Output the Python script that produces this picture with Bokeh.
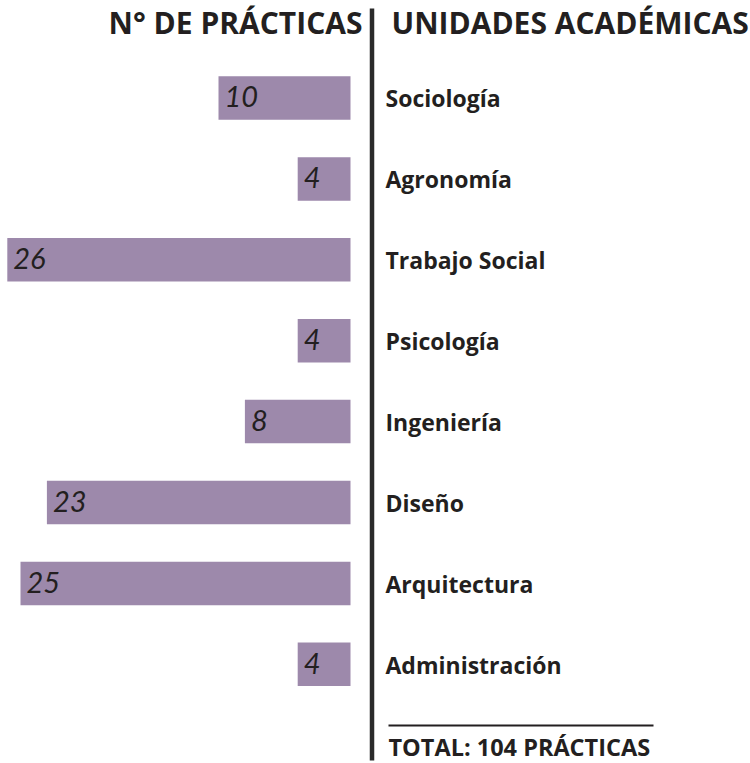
from bokeh.plotting import figure
from bokeh.models import Range1d
from bokeh.embed import file_html
from bokeh.resources import INLINE
from bokeh.core.properties import value

# ---- data ----
categories = ["Sociología", "Agronomía", "Trabajo Social", "Psicología",
              "Ingeniería", "Diseño", "Arquitectura", "Administración"]
practicas = [10, 4, 26, 4, 8, 23, 25, 4]
title_left = "N° DE PRÁCTICAS"
title_right = "UNIDADES ACADÉMICAS"
total_label = "TOTAL: {} PRÁCTICAS".format(sum(practicas))

# ---- layout (screen pixels of the reference) ----
W, H = 750, 763
X0 = 350.0      # screen x where bars start (value 0)
PXU = 13.2      # pixels per practice
ROW0 = 97.5     # screen y of first bar centre
ROWH = 80.9     # row spacing
BAR_H = 43.5
BASE_FIX = 0.4  # empirical baseline correction (fraction of font size)

FONT = "Open Sans"
NUM_FONT = "Lato"
BAR_COLOR = "#9d89ab"
TEXT_COLOR = "#231f20"
LINE_COLOR = "#2a2a2a"


def dx(sx):
    return (sx - X0) / PXU


def dy(sy):
    return (sy - ROW0) / ROWH


p = figure(width=W, height=H, output_backend="svg", toolbar_location=None,
           x_range=Range1d(dx(0), dx(W)),
           y_range=Range1d(dy(H), dy(0)),
           min_border=0, outline_line_color=None)
p.axis.visible = False
p.grid.visible = False
p.background_fill_color = "white"
p.border_fill_color = "white"

rows = list(range(len(categories)))

# bars (growing leftwards from zero)
p.hbar(y=rows, left=[-v for v in practicas], right=0, height=BAR_H / ROWH,
       fill_color=BAR_COLOR, line_color=None)

# value labels
NUM_SIZE = 29
p.text(x=[-v + 6 / PXU for v in practicas],
       y=[r + (10.5 - BASE_FIX * NUM_SIZE) / ROWH for r in rows],
       text=[str(v) for v in practicas], text_font=value(NUM_FONT),
       text_font_style="italic", text_font_size=f"{NUM_SIZE}px",
       text_color=TEXT_COLOR, text_align="left", text_baseline="alphabetic")

# category labels
LAB_SIZE = 23
p.text(x=[dx(385)] * len(rows),
       y=[r + (9.5 - BASE_FIX * LAB_SIZE) / ROWH for r in rows],
       text=categories, text_font=value(FONT), text_font_style="bold",
       text_font_size=f"{LAB_SIZE}px", text_color=TEXT_COLOR,
       text_align="left", text_baseline="alphabetic")

# titles
TIT_SIZE = 30
p.text(x=[dx(362)], y=[dy(34 - BASE_FIX * TIT_SIZE)], text=[title_left],
       text_font=value(FONT), text_font_style="bold",
       text_font_size=f"{TIT_SIZE}px", text_color=TEXT_COLOR,
       text_align="right", text_baseline="alphabetic")
p.text(x=[dx(391)], y=[dy(34 - BASE_FIX * TIT_SIZE)], text=[title_right],
       text_font=value(FONT), text_font_style="bold",
       text_font_size=f"{TIT_SIZE}px", text_color=TEXT_COLOR,
       text_align="left", text_baseline="alphabetic")

# vertical divider
p.segment(x0=[dx(371.5)], y0=[dy(8)], x1=[dx(371.5)], y1=[dy(760)],
          line_width=4.5, line_color=LINE_COLOR)

# total rule and text
TOT_SIZE = 23.5
p.segment(x0=[dx(388)], y0=[dy(725)], x1=[dx(653)], y1=[dy(725)],
          line_width=2, line_color=TEXT_COLOR)
p.text(x=[dx(388)], y=[dy(756 - BASE_FIX * TOT_SIZE)], text=[total_label],
       text_font=value(FONT), text_font_style="bold",
       text_font_size=f"{TOT_SIZE}px", text_color=TEXT_COLOR,
       text_align="left", text_baseline="alphabetic")

open("out.html", "w").write(file_html(p, INLINE))
